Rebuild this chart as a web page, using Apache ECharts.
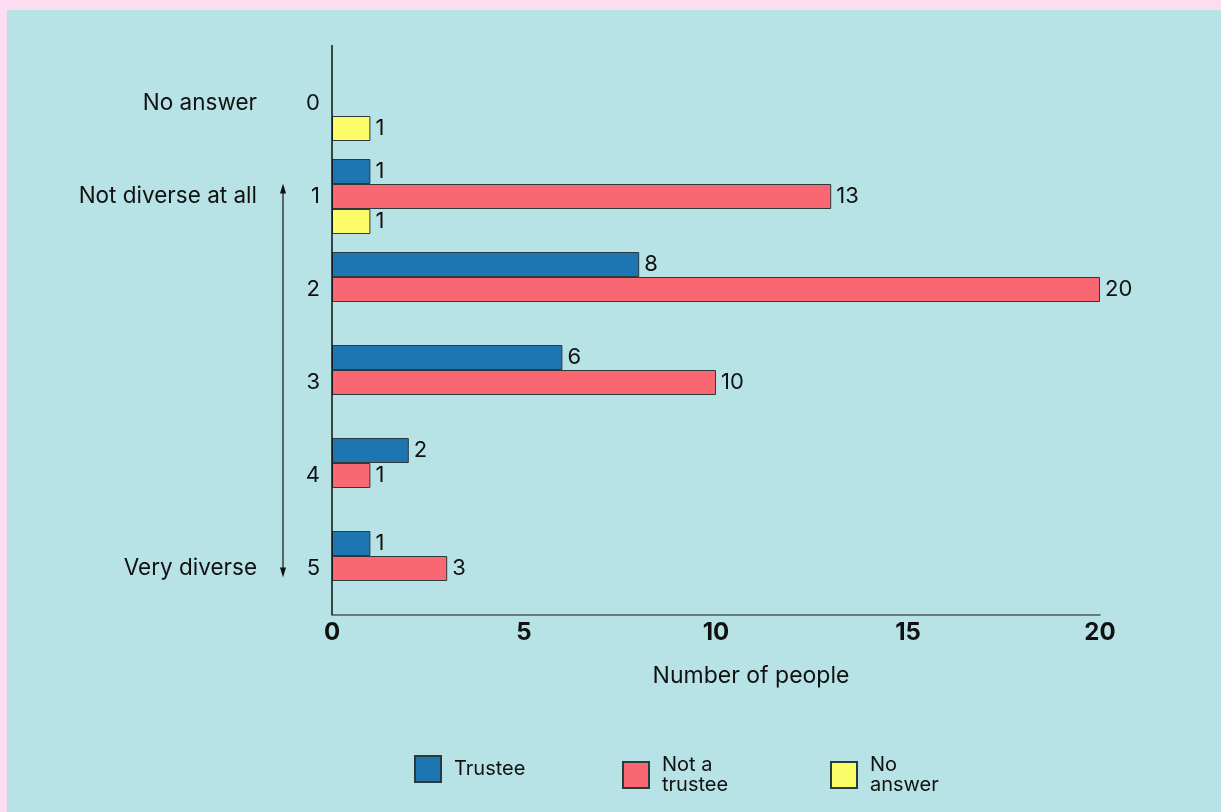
<!DOCTYPE html>
<html>
<head>
<meta charset="utf-8">
<script src="https://cdn.jsdelivr.net/npm/echarts@6/dist/echarts.min.js"></script>
<style>
  html, body { margin: 0; padding: 0; width: 1221px; height: 812px; background: #fbdcf1; overflow: hidden; }
  #panel { position: absolute; left: 7px; top: 10px; width: 1214px; height: 802px; background: #b8e3e6; }
  #chart { width: 1214px; height: 802px; }
</style>
</head>
<body>
<div id="panel"><div id="chart"></div></div>
<script>
// Diversity rating (0 = no answer, 1 = not diverse at all ... 5 = very diverse)
const ratings = ['0', '1', '2', '3', '4', '5'];
const scaleNotes = ['No answer', 'Not diverse at all', '', '', '', 'Very diverse'];
const trustee = [null, 1, 8, 6, 2, 1];
const notTrustee = [null, 13, 20, 10, 1, 3];
const noAnswer = [1, 1, null, null, null, null];
const xTicks = [0, 5, 10, 15, 20];

const FONT = 'Inter, "Noto Sans", sans-serif';
const chart = echarts.init(document.getElementById('chart'));

const barLabel = {
  show: true, position: 'right', distance: 5,
  color: '#111', fontSize: 22, fontFamily: FONT
};
function barSeries(name, data, color) {
  return {
    name: name, type: 'bar', data: data,
    barWidth: 25, barGap: '0%',
    itemStyle: { color: color, borderColor: '#2b3a3b', borderWidth: 1 },
    label: barLabel, emphasis: { disabled: true }
  };
}
function legendAt(left, name) {
  return {
    data: [name], left: left, top: 745, orient: 'horizontal', padding: 0,
    itemWidth: 26, itemHeight: 26, selectedMode: false,
    icon: 'rect',
    textStyle: { fontSize: 20, fontFamily: FONT, color: '#111', lineHeight: 20, padding: [0, 0, 0, 8] }
  };
}

chart.setOption({
  animation: false,
  grid: { left: 325, right: 121, top: 47, bottom: 197, containLabel: false },
  xAxis: {
    type: 'value', min: 0, max: 20, interval: 5,
    axisLine: { show: true, lineStyle: { color: '#4d5b5c', width: 1.5 } },
    axisTick: { show: false },
    splitLine: { show: false },
    axisLabel: {
      margin: 6, fontSize: 24, fontWeight: 'bold', color: '#111', fontFamily: FONT,
      formatter: v => (xTicks.includes(v) ? String(v) : '')
    }
  },
  yAxis: [{
    type: 'category', data: ratings, inverse: true,
    axisLine: { show: false }, axisTick: { show: false },
    axisLabel: { margin: 12, fontSize: 22, color: '#111', fontFamily: FONT }
  }, {
    type: 'category', data: scaleNotes, inverse: true, position: 'left', offset: 67,
    axisLine: { show: false }, axisTick: { show: false },
    axisLabel: { margin: 8, fontSize: 22.5, color: '#111', fontFamily: FONT }
  }],
  legend: [
    legendAt(407, 'Trustee'),
    legendAt(615, 'Not a\ntrustee'),
    legendAt(823, 'No\nanswer')
  ],
  title: {
    text: 'Number of people', left: 744, top: 655, textAlign: 'center', padding: 0,
    textStyle: { fontSize: 23, fontWeight: 'normal', color: '#111', fontFamily: FONT }
  },
  series: [
    barSeries('Trustee', trustee, '#1d76b2'),
    barSeries('Not a\ntrustee', notTrustee, '#f96872'),
    barSeries('No\nanswer', noAnswer, '#fcfc68')
  ]
});

// Y axis line (extends above the first band) and the scale arrow between 1 and 5
const p0 = chart.convertToPixel({ gridIndex: 0 }, [0, 0]);
const p1 = chart.convertToPixel({ gridIndex: 0 }, [0, 1]);
const p5 = chart.convertToPixel({ gridIndex: 0 }, [0, 5]);
const band = p1[1] - p0[1];
const axisTop = p0[1] - band / 2 - 12;
const axisBottom = p5[1] + band / 2;
const ax = p0[0] - 49;
const yTop = p1[1] - 13;
const yBot = p5[1] + 9;
chart.setOption({
  graphic: [
    { type: 'line', shape: { x1: p0[0], y1: axisTop, x2: p0[0], y2: axisBottom },
      style: { stroke: '#111', lineWidth: 1.5 }, z: 10 },
    { type: 'line', shape: { x1: ax, y1: yTop + 8, x2: ax, y2: yBot - 8 },
      style: { stroke: '#111', lineWidth: 1.2 } },
    { type: 'polygon', shape: { points: [[ax, yTop], [ax - 3, yTop + 10], [ax + 3, yTop + 10]] },
      style: { fill: '#111' } },
    { type: 'polygon', shape: { points: [[ax, yBot], [ax - 3, yBot - 10], [ax + 3, yBot - 10]] },
      style: { fill: '#111' } }
  ]
});
</script>
</body>
</html>
